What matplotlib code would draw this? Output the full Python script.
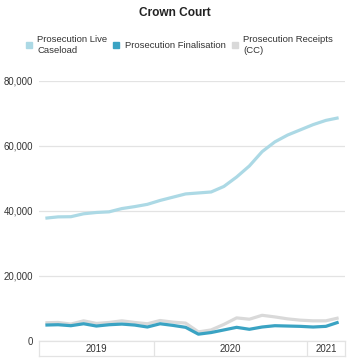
import matplotlib
matplotlib.use("Agg")
import matplotlib.pyplot as plt
from matplotlib.lines import Line2D

plt.rcParams['font.family'] = ['Liberation Sans', 'DejaVu Sans']

# monthly, Apr 2019 - Mar 2021
months = list(range(24))
live_caseload = [37750, 38150, 38200, 39100, 39500, 39700, 40700, 41300, 42000, 43200, 44200, 45200,
                 45500, 45800, 47500, 50400, 53800, 58200, 61200, 63300, 64900, 66500, 67800, 68600]
finalisation = [4900, 5000, 4700, 5300, 4600, 5000, 5200, 4900, 4300, 5300, 4800, 4200,
                2100, 2600, 3400, 4200, 3600, 4300, 4700, 4600, 4500, 4300, 4500, 5800]
receipts = [5600, 5700, 5200, 6200, 5400, 5700, 6200, 5700, 5300, 6300, 5800, 5500,
            2800, 3400, 5100, 7100, 6700, 7900, 7400, 6800, 6400, 6200, 6200, 7100]
years = ["2019", "2020", "2021"]
year_bounds = [-0.5, 8.5, 20.5, 23.5]
yticks = [0, 20000, 40000, 60000, 80000]

c_live = "#acd9e5"
c_fin = "#3aa3c3"
c_rec = "#d9d9d9"
grid_c = "#e3e3e3"

fig = plt.figure(figsize=(3.5, 3.61), dpi=100)
ax = fig.add_axes([39/350, 20/361, 306/350, 280.3/361 - 20/361])

ax.plot(months, receipts, color=c_rec, lw=2.3, solid_capstyle="butt", zorder=3)
ax.plot(months, finalisation, color=c_fin, lw=2.3, solid_capstyle="butt", zorder=4)
ax.plot(months, live_caseload, color=c_live, lw=2.3, solid_capstyle="butt", zorder=4)

ax.set_xlim(-0.5, 23.5)
ax.set_ylim(0, 80000)
ax.set_yticks(yticks)
ax.set_yticklabels(["{:,}".format(v) for v in yticks], fontsize=6.9, color="#333333")
ax.tick_params(axis="y", length=0, pad=4)
ax.set_xticks([])
ax.grid(axis="y", color=grid_c, lw=0.9)
for s in ax.spines.values():
    s.set_visible(False)
ax.set_axisbelow(True)

# year band under the axis
band = fig.add_axes([39/350, 5/361, 306/350, 15/361])
band.set_xlim(-0.5, 23.5)
band.set_ylim(0, 1)
band.set_xticks([])
band.set_yticks([])
for s in band.spines.values():
    s.set_color(grid_c)
    s.set_linewidth(0.9)
for b in year_bounds[1:-1]:
    band.axvline(b, color=grid_c, lw=0.9)
for i, y in enumerate(years):
    band.text((year_bounds[i] + year_bounds[i + 1]) / 2, 0.45, y, ha="center", va="center",
              fontsize=6.9, color="#333333")

fig.text(0.5, 1 - 13/361, "Crown Court", ha="center", va="center", fontsize=8.6,
         fontweight="bold", color="#222222")

handles = [Line2D([], [], ls="", marker="s", markersize=4.5, color=c)
           for c in (c_live, c_fin, c_rec)]
labels = ["Prosecution Live\nCaseload", "Prosecution Finalisation", "Prosecution Receipts\n(CC)"]
fig.legend(handles, labels, ncol=3, loc="center", bbox_to_anchor=(179/350, 1 - 45/361),
           frameon=False, fontsize=6.8, handlelength=0.8, handletextpad=0.5,
           columnspacing=0.55, labelcolor="#333333", labelspacing=0.2)

fig.savefig("out.png", dpi=100)
